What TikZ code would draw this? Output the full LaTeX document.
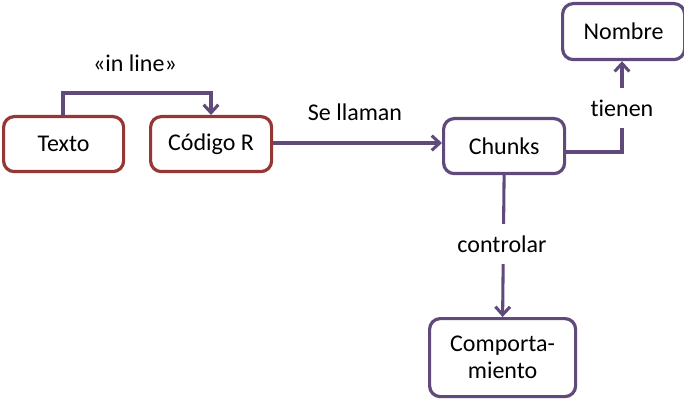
\documentclass[tikz,border=0pt]{standalone}
\usepackage{fontspec}
\setmainfont{Carlito}[Ligatures={NoCommon}]
\usetikzlibrary{arrows.meta}
\definecolor{boxred}{HTML}{953735}
\definecolor{boxpurple}{HTML}{604A7B}
\begin{document}
\begin{tikzpicture}[x=0.75pt,y=-0.75pt,
  every node/.style={font=\fontsize{18}{21}\selectfont, text=black},
  redbox/.style={draw=boxred, line width=2.4pt, rounded corners=8pt, fill=white, inner sep=0pt, anchor=north west},
  purplebox/.style={draw=boxpurple, line width=2.4pt, rounded corners=8pt, fill=white, inner sep=0pt, anchor=north west},
  conn/.style={draw=boxpurple, line width=2.3pt, -{Straight Barb[length=6pt,width=11pt,line width=2.3pt]}},
  lbl/.style={fill=white, inner xsep=2pt, minimum height=40*0.75pt}]
\useasboundingbox (0,0) rectangle (684,409);
\node[redbox, minimum width=120*0.75pt, minimum height=55*0.75pt] (texto) at (2,115) {Texto};
\node[redbox, minimum width=121*0.75pt, minimum height=55*0.75pt] (codigo) at (149,115) {Código R};
\node[purplebox, minimum width=121*0.75pt, minimum height=55*0.75pt] (chunks) at (442,117) {Chunks};
\node[purplebox, minimum width=122*0.75pt, minimum height=56*0.75pt] (nombre) at (561,2) {Nombre};
\node[purplebox, minimum width=146*0.75pt, minimum height=78*0.75pt, align=center] (comp) at (428,317) {Comporta-\\[-1pt]miento};
\coordinate (t1) at (63,93);
\coordinate (t2) at (211,93);
\draw[conn] (texto.north -| t1) -- (t1) -- (t2) -- (codigo.north -| t2);
\node (inl) at (135,63) {«in line»};
\draw[conn] (codigo.east |- 0,143) -- (chunks.west |- 0,143);
\node (sell) at (355,112) {Se llaman};
\coordinate (n1) at (622,152);
\draw[conn] (chunks.east |- n1) -- (n1) -- (nombre.south -| n1);
\node[lbl] (tien) at (622,108) {tienen};
\draw[conn] (chunks.south) -- (comp.north);
\node[lbl] (ctrl) at (502,244) {controlar};
\end{tikzpicture}
\end{document}
